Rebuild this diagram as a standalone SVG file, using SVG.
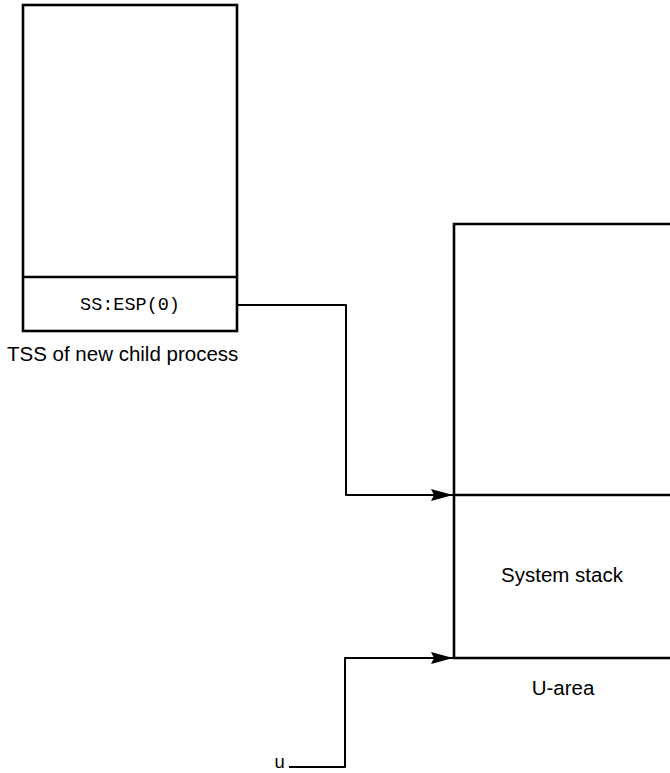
<svg xmlns="http://www.w3.org/2000/svg" width="670" height="773" viewBox="0 0 670 773">
  <style>
    .box { fill: none; stroke: #000; stroke-width: 2.6; }
    .wire { fill: none; stroke: #000; stroke-width: 2; stroke-linejoin: round; }
    .label { font-family: "Liberation Sans", Arial, sans-serif; font-size: 20.5px; fill: #000; }
    .mono { font-family: "Liberation Mono", "Courier New", monospace; font-size: 18.5px; fill: #000; }
  </style>
  <defs>
    <marker id="arrow" markerUnits="userSpaceOnUse" viewBox="0 0 22 12" markerWidth="22" markerHeight="12" refX="22" refY="6" orient="auto" overflow="visible">
      <path d="M0,0 L22,6 L0,12 L3,6 Z" fill="#000"/>
    </marker>
  </defs>
  <rect width="670" height="773" fill="#fff"/>

  <!-- Task state segment of the new child -->
  <g id="tss">
    <rect class="box" x="23" y="5" width="214" height="326"/>
    <line class="box" x1="23" y1="277" x2="237" y2="277"/>
    <text class="mono" x="130" y="310" text-anchor="middle">SS:ESP(0)</text>
    <text class="label" x="7" y="361">TSS of new child process</text>
  </g>

  <!-- U-area with the kernel stack -->
  <g id="uarea">
    <path class="box" d="M672,224 H454 V658 H672"/>
    <line class="box" x1="454" y1="495" x2="672" y2="495"/>
    <text class="label" x="562" y="582" text-anchor="middle">System stack</text>
    <text class="label" x="563" y="695" text-anchor="middle">U-area</text>
  </g>

  <!-- u pointer label -->
  <g id="u">
    <text class="mono" x="274" y="768" font-size="17">u</text>
  </g>

  <g id="connectors">
    <path class="wire" d="M237,305 H346 V495 H453" marker-end="url(#arrow)"/>
    <path class="wire" d="M289,767 H345 V658 H453" marker-end="url(#arrow)"/>
  </g>
</svg>
